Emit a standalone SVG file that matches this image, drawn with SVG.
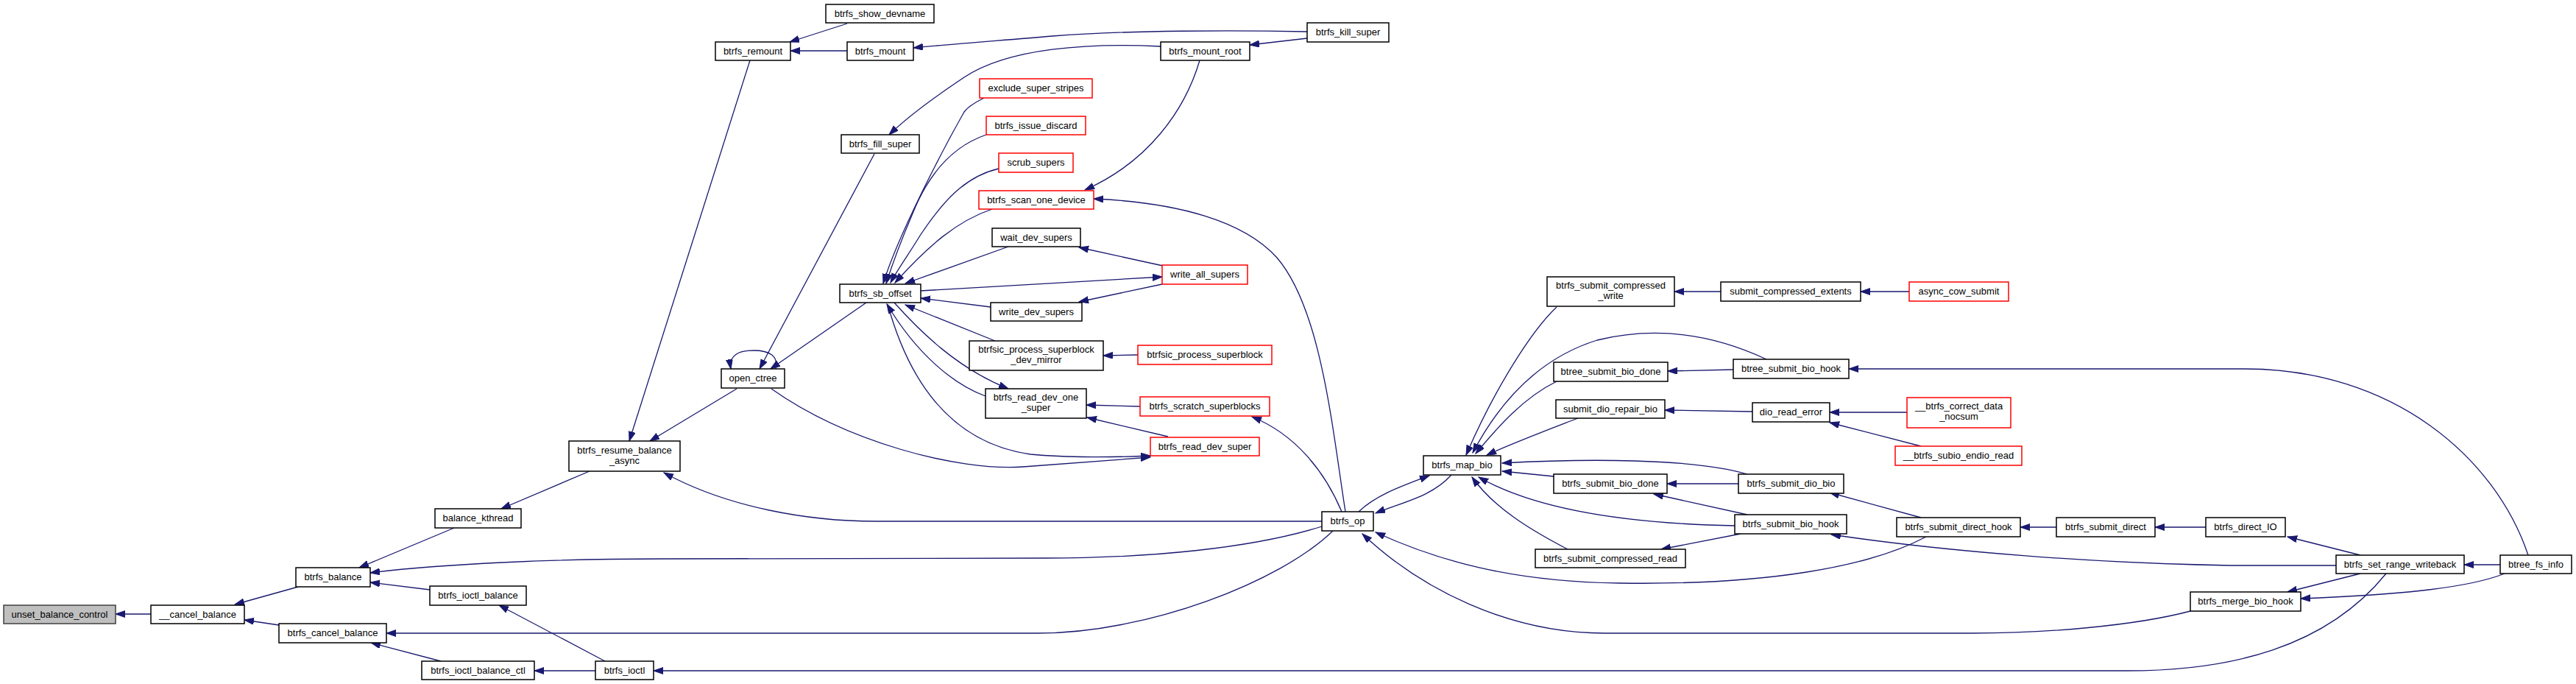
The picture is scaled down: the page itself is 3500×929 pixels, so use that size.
<svg xmlns="http://www.w3.org/2000/svg" width="3500" height="929" viewBox="0 0 3500 929">
<style>
.n rect{fill:#fff;stroke:#000;stroke-width:1.5}
.n.r rect{stroke:#f00}
.n.g rect{fill:#bfbfbf;stroke:#404040}
.n text{font-family:"Liberation Sans",Arial,sans-serif;font-size:13px;fill:#000;text-anchor:middle}
#edges path{fill:none;stroke:#191970;stroke-width:1.3;marker-end:url(#ah)}
</style>
<defs>
<marker id="ah" markerUnits="userSpaceOnUse" markerWidth="14" markerHeight="10" refX="13" refY="4.5" orient="auto">
<path d="M0,0 L13,4.5 L0,9 z" fill="#191970" stroke="#191970" stroke-width="1"/>
</marker>
</defs>
<rect width="3500" height="929" fill="#fff"/>
<g id="edges">
<path d="M205,834 L157,834"/>
<path d="M405,797 L319,821"/>
<path d="M379,849 L332,842"/>
<path d="M617,717 L488,771"/>
<path d="M584,801 L503,791"/>
<path d="M801,640 L681,691"/>
<path d="M809,911 L726,911"/>
<path d="M822,898 L678,822"/>
<path d="M599,898 L504,873"/>
<path d="M1796,715 C1700,745 1560,758 1420,758 L900,759 C750,759 600,766 503,778"/>
<path d="M1796,708 L1190,708 C1100,708 990,690 902,642"/>
<path d="M1811,721 C1740,790 1560,860 1410,860 L525,860"/>
<path d="M3242,779 C3160,880 3030,911 2890,911 L888,911"/>
<path d="M1019,82 L855,599"/>
<path d="M1001,528 L883,599"/>
<path d="M1054,501 C1058,483 1045,476 1024,476 C1003,476 990,483 993,501"/>
<path d="M1188,209 L1032,501"/>
<path d="M1177,411 L1047,501"/>
<path d="M1048,528 C1150,600 1300,640 1390,634 L1563,621"/>
<path d="M1206,413 C1230,500 1280,600 1400,617 C1450,622 1520,621 1563,619"/>
<path d="M1339,538 C1295,522 1245,480 1205,413"/>
<path d="M1215,411 C1250,450 1300,500 1370,528"/>
<path d="M1352,463 L1230,414"/>
<path d="M1346,417 L1251,405"/>
<path d="M1250,395 L1579,376"/>
<path d="M1579,386 L1466,410"/>
<path d="M1580,361 L1466,336"/>
<path d="M1370,335 L1230,385"/>
<path d="M1337,133 C1325,139 1315,145 1310,152 C1280,205 1220,320 1200,385"/>
<path d="M1340,183 C1290,200 1260,240 1240,290 C1225,325 1212,360 1204,385"/>
<path d="M1357,229 C1310,240 1280,275 1250,320 C1235,345 1220,365 1210,384"/>
<path d="M1348,284 C1300,300 1260,335 1216,384"/>
<path d="M1630,82 C1610,150 1560,220 1474,258"/>
<path d="M1828,695 C1810,580 1795,420 1735,350 C1690,300 1600,275 1486,270"/>
<path d="M1823,695 C1800,640 1760,590 1701,566"/>
<path d="M1546,482 L1499,483"/>
<path d="M1549,552 L1476,550"/>
<path d="M1587,593 L1477,567"/>
<path d="M1151,32 L1073,57"/>
<path d="M1151,69 L1074,69"/>
<path d="M1776,43 C1680,41 1530,41 1430,49 C1360,55 1290,60 1241,65"/>
<path d="M1776,52 L1698,61"/>
<path d="M1577,63 C1480,58 1370,65 1310,105 C1265,135 1232,160 1208,183"/>
<path d="M1846,695 C1870,672 1905,660 1942,646"/>
<path d="M1972,645 C1945,675 1905,682 1869,697"/>
<path d="M2115,417 C2080,450 2030,530 1992,618"/>
<path d="M2400,488 C2340,460 2260,440 2170,462 C2080,490 2030,560 2001,615"/>
<path d="M2115,518 C2070,540 2035,580 2005,616"/>
<path d="M2144,568 C2100,585 2060,600 2020,618"/>
<path d="M2374,644 C2300,622 2150,623 2041,629"/>
<path d="M2111,647 L2041,640"/>
<path d="M2357,714 C2250,712 2100,700 2009,648"/>
<path d="M2130,746 C2080,720 2030,690 2000,648"/>
<path d="M2362,657 L2265,657"/>
<path d="M2374,699 L2247,671"/>
<path d="M2365,725 L2257,746"/>
<path d="M2355,502 L2266,504"/>
<path d="M2381,559 L2262,557"/>
<path d="M2338,396 L2275,396"/>
<path d="M2594,396 L2528,396"/>
<path d="M2591,560 L2486,560"/>
<path d="M2610,606 L2486,574"/>
<path d="M3435,754 C3390,620 3250,501 3050,501 L2512,501"/>
<path d="M2610,703 L2486,669"/>
<path d="M2617,729 C2540,770 2400,795 2200,792 C2050,790 1950,760 1869,723"/>
<path d="M2976,830 C2900,850 2780,860 2680,860 L2180,860 C2050,860 1930,800 1851,725"/>
<path d="M3174,768 L3030,768 C2850,765 2650,750 2488,726"/>
<path d="M2794,716 L2745,716"/>
<path d="M2997,716 L2928,716"/>
<path d="M3207,754 L3108,729"/>
<path d="M3207,779 L3108,804"/>
<path d="M3397,767 L3348,767"/>
<path d="M3403,779 C3350,800 3250,808 3126,813"/>
</g>
<g id="n1" class="n g"><rect x="5" y="822" width="152" height="25"/><text x="81" y="839">unset_balance_control</text></g>
<g id="n2" class="n"><rect x="205" y="822" width="127" height="25"/><text x="268.5" y="839">__cancel_balance</text></g>
<g id="n3" class="n"><rect x="402" y="771" width="101" height="26"/><text x="452.5" y="788">btrfs_balance</text></g>
<g id="n4" class="n"><rect x="379" y="847" width="146" height="26"/><text x="452" y="864">btrfs_cancel_balance</text></g>
<g id="n5" class="n"><rect x="584" y="796" width="131" height="26"/><text x="649.5" y="813">btrfs_ioctl_balance</text></g>
<g id="n6" class="n"><rect x="591" y="691" width="117" height="26"/><text x="649.5" y="708">balance_kthread</text></g>
<g id="n7" class="n"><rect x="573" y="898" width="153" height="25"/><text x="649.5" y="915">btrfs_ioctl_balance_ctl</text></g>
<g id="n8" class="n"><rect x="809" y="898" width="79" height="25"/><text x="848.5" y="915">btrfs_ioctl</text></g>
<g id="n9" class="n"><rect x="773" y="599" width="151" height="41"/><text x="848.5" y="616">btrfs_resume_balance</text><text x="848.5" y="630">_async</text></g>
<g id="n10" class="n"><rect x="980" y="501" width="86" height="26"/><text x="1023" y="518">open_ctree</text></g>
<g id="n11" class="n"><rect x="972" y="57" width="102" height="25"/><text x="1023" y="74">btrfs_remount</text></g>
<g id="n12" class="n"><rect x="1122" y="6" width="147" height="25"/><text x="1195.5" y="23">btrfs_show_devname</text></g>
<g id="n13" class="n"><rect x="1151" y="57" width="90" height="25"/><text x="1196" y="74">btrfs_mount</text></g>
<g id="n14" class="n"><rect x="1143" y="183" width="106" height="25"/><text x="1196" y="200">btrfs_fill_super</text></g>
<g id="n15" class="n"><rect x="1577" y="57" width="121" height="25"/><text x="1637.5" y="74">btrfs_mount_root</text></g>
<g id="n16" class="n"><rect x="1776" y="31" width="111" height="26"/><text x="1831.5" y="48">btrfs_kill_super</text></g>
<g id="n17" class="n r"><rect x="1331" y="107" width="153" height="26"/><text x="1407.5" y="124">exclude_super_stripes</text></g>
<g id="n18" class="n r"><rect x="1340" y="158" width="135" height="25"/><text x="1407.5" y="175">btrfs_issue_discard</text></g>
<g id="n19" class="n r"><rect x="1357" y="208" width="101" height="26"/><text x="1407.5" y="225">scrub_supers</text></g>
<g id="n20" class="n r"><rect x="1330" y="259" width="156" height="25"/><text x="1408" y="276">btrfs_scan_one_device</text></g>
<g id="n21" class="n"><rect x="1348" y="310" width="120" height="25"/><text x="1408" y="327">wait_dev_supers</text></g>
<g id="n22" class="n"><rect x="1141" y="386" width="110" height="25"/><text x="1196" y="403">btrfs_sb_offset</text></g>
<g id="n23" class="n r"><rect x="1579" y="360" width="116" height="26"/><text x="1637" y="377">write_all_supers</text></g>
<g id="n24" class="n"><rect x="1346" y="411" width="124" height="25"/><text x="1408" y="428">write_dev_supers</text></g>
<g id="n25" class="n"><rect x="1317" y="463" width="182" height="40"/><text x="1408" y="479">btrfsic_process_superblock</text><text x="1408" y="493">_dev_mirror</text></g>
<g id="n26" class="n r"><rect x="1546" y="469" width="182" height="26"/><text x="1637" y="486">btrfsic_process_superblock</text></g>
<g id="n27" class="n"><rect x="1339" y="528" width="137" height="40"/><text x="1407.5" y="544">btrfs_read_dev_one</text><text x="1407.5" y="558">_super</text></g>
<g id="n28" class="n r"><rect x="1549" y="539" width="176" height="26"/><text x="1637" y="556">btrfs_scratch_superblocks</text></g>
<g id="n29" class="n r"><rect x="1563" y="594" width="148" height="25"/><text x="1637" y="611">btrfs_read_dev_super</text></g>
<g id="n30" class="n"><rect x="1796" y="695" width="70" height="26"/><text x="1831" y="712">btrfs_op</text></g>
<g id="n31" class="n"><rect x="1934" y="619" width="105" height="26"/><text x="1986.5" y="636">btrfs_map_bio</text></g>
<g id="n32" class="n"><rect x="2102" y="376" width="173" height="40"/><text x="2188.5" y="392">btrfs_submit_compressed</text><text x="2188.5" y="406">_write</text></g>
<g id="n33" class="n"><rect x="2338" y="383" width="190" height="26"/><text x="2433" y="400">submit_compressed_extents</text></g>
<g id="n34" class="n r"><rect x="2594" y="383" width="135" height="26"/><text x="2661.5" y="400">async_cow_submit</text></g>
<g id="n35" class="n"><rect x="2111" y="492" width="155" height="26"/><text x="2188.5" y="509">btree_submit_bio_done</text></g>
<g id="n36" class="n"><rect x="2114" y="543" width="148" height="25"/><text x="2188" y="560">submit_dio_repair_bio</text></g>
<g id="n37" class="n"><rect x="2111" y="644" width="154" height="26"/><text x="2188" y="661">btrfs_submit_bio_done</text></g>
<g id="n38" class="n"><rect x="2086" y="746" width="204" height="25"/><text x="2188" y="763">btrfs_submit_compressed_read</text></g>
<g id="n39" class="n"><rect x="2355" y="488" width="157" height="26"/><text x="2433.5" y="505">btree_submit_bio_hook</text></g>
<g id="n40" class="n"><rect x="2381" y="547" width="105" height="26"/><text x="2433.5" y="564">dio_read_error</text></g>
<g id="n41" class="n"><rect x="2362" y="644" width="143" height="26"/><text x="2433.5" y="661">btrfs_submit_dio_bio</text></g>
<g id="n42" class="n"><rect x="2357" y="699" width="152" height="26"/><text x="2433" y="716">btrfs_submit_bio_hook</text></g>
<g id="n43" class="n r"><rect x="2591" y="540" width="141" height="41"/><text x="2661.5" y="556">__btrfs_correct_data</text><text x="2661.5" y="570">_nocsum</text></g>
<g id="n44" class="n r"><rect x="2575" y="606" width="172" height="26"/><text x="2661" y="623">__btrfs_subio_endio_read</text></g>
<g id="n45" class="n"><rect x="2577" y="703" width="168" height="26"/><text x="2661" y="720">btrfs_submit_direct_hook</text></g>
<g id="n46" class="n"><rect x="2794" y="703" width="134" height="26"/><text x="2861" y="720">btrfs_submit_direct</text></g>
<g id="n47" class="n"><rect x="2997" y="703" width="108" height="26"/><text x="3051" y="720">btrfs_direct_IO</text></g>
<g id="n48" class="n"><rect x="3174" y="754" width="174" height="25"/><text x="3261" y="771">btrfs_set_range_writeback</text></g>
<g id="n49" class="n"><rect x="3397" y="754" width="97" height="25"/><text x="3445.5" y="771">btree_fs_info</text></g>
<g id="n50" class="n"><rect x="2976" y="804" width="150" height="26"/><text x="3051" y="821">btrfs_merge_bio_hook</text></g>
</svg>
